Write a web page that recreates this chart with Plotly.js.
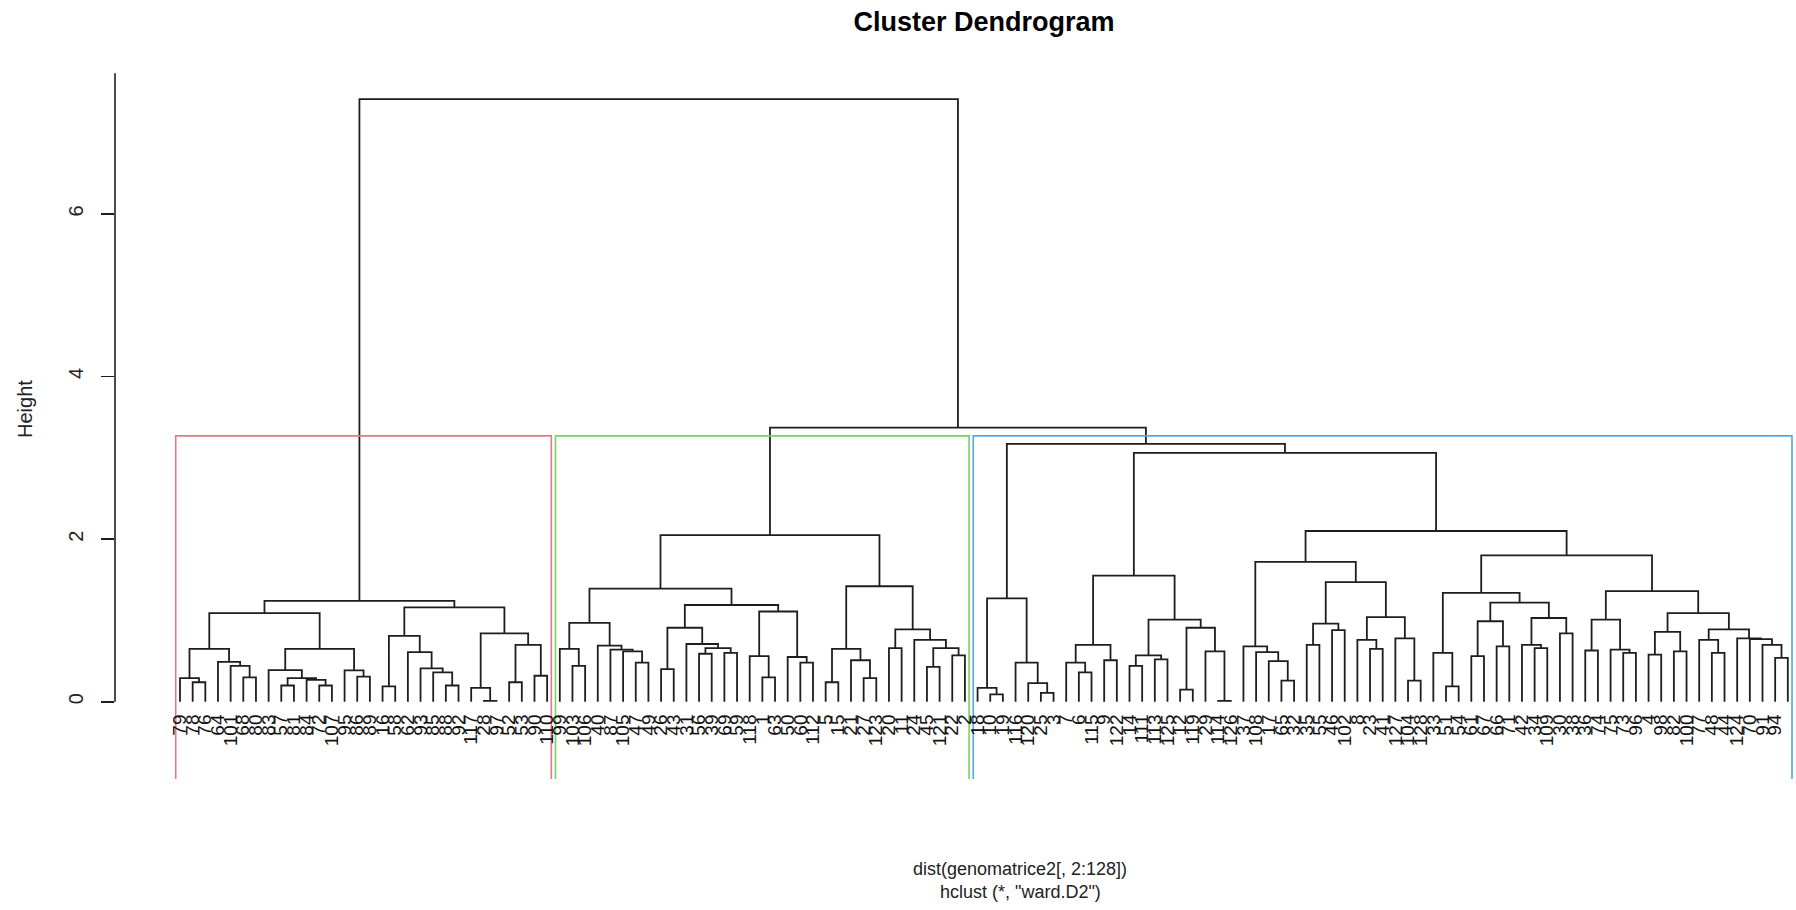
<!DOCTYPE html>
<html>
<head>
<meta charset="utf-8">
<script src="https://cdn.plot.ly/plotly-3.0.1.min.js"></script>
<style>
  html, body { margin: 0; padding: 0; background: #ffffff; }
  #chart { width: 1796px; height: 910px; }
</style>
</head>
<body>
<div id="chart"></div>
<script>
// Observation labels, in leaf order from left to right
const leafLabels = [
  79, 78, 76, 64, 101, 68, 80, 83, 57, 81, 84, 72, 107, 95, 86, 89, 16, 58, 62, 93,
  85, 88, 92, 117, 28, 97, 52, 53, 90, 110, 99, 103, 106, 40, 87, 105, 47, 49, 26, 43,
  31, 56, 39, 69, 59, 118, 1, 63, 50, 60, 112, 5, 15, 21, 27, 123, 20, 11, 24, 45,
  121, 22, 2, 18, 10, 19, 116, 120, 25, 3, 7, 6, 115, 9, 122, 14, 111, 113, 125, 12,
  119, 29, 114, 126, 37, 108, 17, 65, 32, 35, 55, 46, 102, 8, 23, 41, 127, 104, 128, 33,
  51, 54, 61, 67, 66, 71, 42, 34, 109, 30, 38, 36, 74, 75, 73, 96, 4, 98, 82, 100,
  77, 48, 44, 124, 70, 91, 94, 13
];

// Agglomeration steps (hclust style): a negative entry is a leaf position,
// a positive entry refers to an earlier step (1-based).
const mergeLeft = [
  -2, -1, -6, -5, -4, 2, -9, -12, -11, 7,
  -8, -15, -14, 11, 6, -17, -22, -21, -20, -19,
  16, -25, -24, -27, -29, 24, 23, 21, 15, -32,
  -31, -37, -36, -35, -34, 31, -39, -42, -44, 38,
  -41, 37, -47, -46, -50, -49, 44, 42, 36, -52,
  -55, -54, 50, -57, -60, -62, 55, -59, 54, 53,
  49, -65, -64, -69, -68, -67, 63, -72, -71, -74,
  69, -76, -78, 72, -80, -83, -82, 75, 74, 71,
  -88, -87, -86, -85, -90, -92, 85, -95, -94, -98,
  -97, 89, 87, 84, -101, -100, -103, -105, 97, -108,
  -107, -110, 101, 99, 96, -112, -115, -114, 106, -117,
  -119, 110, -122, -121, -127, -126, -125, -124, 114, 112,
  109, 105, 94, 80, 67, 61, 29
];
const mergeRight = [
  -3, 1, -7, 3, 4, 5, -10, -13, 8, 9,
  10, -16, 12, 13, 14, -18, -23, 17, 18, 19,
  20, -26, 22, -28, -30, 25, 26, 27, 28, -33,
  30, -38, 32, 33, 34, 35, -40, -43, -45, 39,
  40, 41, -48, 43, -51, 45, 46, 47, 48, -53,
  -56, 51, 52, -58, -61, -63, 56, 57, 58, 59,
  60, -66, 62, -70, 64, 65, 66, -73, 68, -75,
  70, -77, -79, 73, -81, -84, 76, 77, 78, 79,
  -89, 81, 82, 83, -91, -93, 86, -96, 88, -99,
  90, 91, 92, 93, -102, 95, -104, -106, 98, -109,
  100, -111, 102, 103, 104, -113, -116, 107, 108, -118,
  -120, 111, -123, 113, -128, 115, 116, 117, 118, 119,
  120, 121, 122, 123, 124, 125, 126
];
const mergeHeight = [
  0.24, 0.29, 0.30, 0.44, 0.49, 0.65, 0.20, 0.20, 0.27, 0.29,
  0.39, 0.31, 0.385, 0.65, 1.09, 0.19, 0.20, 0.36, 0.41, 0.61,
  0.81, 0.01, 0.17, 0.24, 0.32, 0.70, 0.84, 1.16, 1.24, 0.44,
  0.65, 0.48, 0.62, 0.64, 0.69, 0.97, 0.40, 0.59, 0.60, 0.66,
  0.71, 0.91, 0.30, 0.56, 0.48, 0.55, 1.11, 1.19, 1.39, 0.24,
  0.29, 0.51, 0.65, 0.66, 0.43, 0.57, 0.66, 0.76, 0.89, 1.42,
  2.05, 0.09, 0.17, 0.11, 0.23, 0.48, 1.27, 0.36, 0.48, 0.51,
  0.70, 0.44, 0.52, 0.57, 0.15, 0.01, 0.62, 0.91, 1.01, 1.55,
  0.26, 0.50, 0.61, 0.68, 0.70, 0.88, 0.96, 0.65, 0.76, 0.26,
  0.78, 1.04, 1.47, 1.72, 0.19, 0.60, 0.56, 0.68, 0.99, 0.66,
  0.70, 0.84, 1.03, 1.22, 1.34, 0.63, 0.60, 0.64, 1.01, 0.58,
  0.62, 0.86, 0.60, 0.76, 0.54, 0.70, 0.77, 0.78, 0.89, 1.09,
  1.36, 1.80, 2.10, 3.06, 3.17, 3.37, 7.41
];

const heightTicks = [0, 2, 4, 6];
const clusterCount = 3;

const mainTitle = 'Cluster Dendrogram';
const xLabel = 'dist(genomatrice2[, 2:128])';
const subLabel = 'hclust (*, "ward.D2")';
const yLabel = 'Height';

// ---- styling ----
const FONT = 'Liberation Sans, Arial, Helvetica, sans-serif';
const INK = '#1e1e1e';
const boxColors = ['#E8758B', '#74D365', '#4FA8EA'];

// ---- geometry of the tree ----
const nodeX = [];
const nodeH = [];
function nodeOf(ref) {
  return ref < 0 ? { x: -ref, h: 0 } : { x: nodeX[ref - 1], h: nodeH[ref - 1] };
}
const segX = [];
const segY = [];
for (let k = 0; k < mergeHeight.length; k++) {
  const a = nodeOf(mergeLeft[k]);
  const b = nodeOf(mergeRight[k]);
  const h = mergeHeight[k];
  segX.push(a.x, a.x, b.x, b.x, null);
  segY.push(a.h, h, h, b.h, null);
  nodeX.push((a.x + b.x) / 2);
  nodeH.push(h);
}

// ---- cut into clusters, like rect.hclust ----
const byHeight = mergeHeight.map((h, i) => i).sort((p, q) => mergeHeight[q] - mergeHeight[p]);
const upperSteps = new Set(byHeight.slice(0, clusterCount - 1).map(i => i + 1));
const clusterRoots = [];
upperSteps.forEach(s => {
  [mergeLeft[s - 1], mergeRight[s - 1]].forEach(c => {
    if (!(c > 0 && upperSteps.has(c))) clusterRoots.push(c);
  });
});
function leafSpan(ref) {
  if (ref < 0) return [-ref, -ref];
  const a = leafSpan(mergeLeft[ref - 1]);
  const b = leafSpan(mergeRight[ref - 1]);
  return [Math.min(a[0], b[0]), Math.max(a[1], b[1])];
}
const spans = clusterRoots.map(leafSpan).sort((p, q) => p[0] - q[0]);
const cutHeight = (mergeHeight[byHeight[clusterCount - 2]] + mergeHeight[byHeight[clusterCount - 1]]) / 2;

// ---- axes ----
const leafStep = 12.66;                 // px between neighbouring leaves
const plotLeft = 115, plotRight = 1796;
const firstLeafPx = 180;
const xMin = 1 - (firstLeafPx - plotLeft) / leafStep;
const xMax = xMin + (plotRight - plotLeft) / leafStep;
const yMin = -0.95, yMax = 8.15;
const axisTop = 7.73;

const traces = [{
  type: 'scatter', mode: 'lines', x: segX, y: segY,
  line: { color: INK, width: 1.8 }, hoverinfo: 'skip', showlegend: false
}];
spans.forEach((sp, i) => {
  const x0 = sp[0] - 0.34, x1 = sp[1] + 0.33;
  traces.push({
    type: 'scatter', mode: 'lines',
    x: [x0, x0, x1, x1], y: [yMin, cutHeight, cutHeight, yMin],
    line: { color: boxColors[i % boxColors.length], width: 1.6 },
    hoverinfo: 'skip', showlegend: false
  });
});

const leafIdx = leafLabels.map((v, i) => i + 1);
const plotTop = 39, plotBottom = 779;
const pxToPaperX = px => (px - plotLeft) / (plotRight - plotLeft);
const pxToPaperY = py => (plotBottom - py) / (plotBottom - plotTop);

const layout = {
  width: 1796, height: 910,
  margin: { l: plotLeft, r: 1796 - plotRight, t: plotTop, b: 910 - plotBottom, pad: 0 },
  paper_bgcolor: '#ffffff', plot_bgcolor: '#ffffff',
  font: { family: FONT, color: INK, size: 19 },
  title: {
    text: '<b>' + mainTitle + '</b>',
    x: 984 / 1796, xref: 'container', xanchor: 'center',
    y: 1 - 22 / 910, yref: 'container', yanchor: 'middle',
    font: { family: FONT, size: 27, color: '#000' }
  },
  xaxis: {
    range: [xMin, xMax], fixedrange: true,
    showgrid: false, zeroline: false, showline: false,
    tickmode: 'array', tickvals: leafIdx, ticktext: leafLabels.map(String),
    tickangle: -90, ticks: '', ticklabelstandoff: 8,
    tickfont: { family: FONT, size: 19, color: '#111' },
    anchor: 'free', position: (0 - yMin) / (yMax - yMin)
  },
  yaxis: {
    range: [yMin, yMax], fixedrange: true,
    showgrid: false, zeroline: false, showline: false,
    tickmode: 'array', tickvals: heightTicks, ticktext: heightTicks.map(String),
    ticks: 'outside', ticklen: 13, tickwidth: 1.6, tickcolor: INK,
    tickangle: -90, ticklabelstandoff: 10,
    tickfont: { family: FONT, size: 20, color: '#222' }
  },
  shapes: [{
    type: 'line', xref: 'paper', yref: 'y',
    x0: 0, x1: 0, y0: 0, y1: axisTop,
    line: { color: INK, width: 1.6 }
  }],
  annotations: [
    { text: yLabel, xref: 'paper', yref: 'paper', x: pxToPaperX(25), y: 0.5,
      textangle: -90, showarrow: false, xanchor: 'center', yanchor: 'middle',
      font: { family: FONT, size: 20, color: '#222' } },
    { text: xLabel, xref: 'paper', yref: 'paper', x: pxToPaperX(1020), y: pxToPaperY(869),
      showarrow: false, xanchor: 'center', yanchor: 'middle',
      font: { family: FONT, size: 18, color: '#222' } },
    { text: subLabel, xref: 'paper', yref: 'paper', x: pxToPaperX(1020), y: pxToPaperY(892),
      showarrow: false, xanchor: 'center', yanchor: 'middle',
      font: { family: FONT, size: 18, color: '#222' } }
  ]
};

Plotly.newPlot('chart', traces, layout, { displayModeBar: false, staticPlot: true });
</script>
</body>
</html>
